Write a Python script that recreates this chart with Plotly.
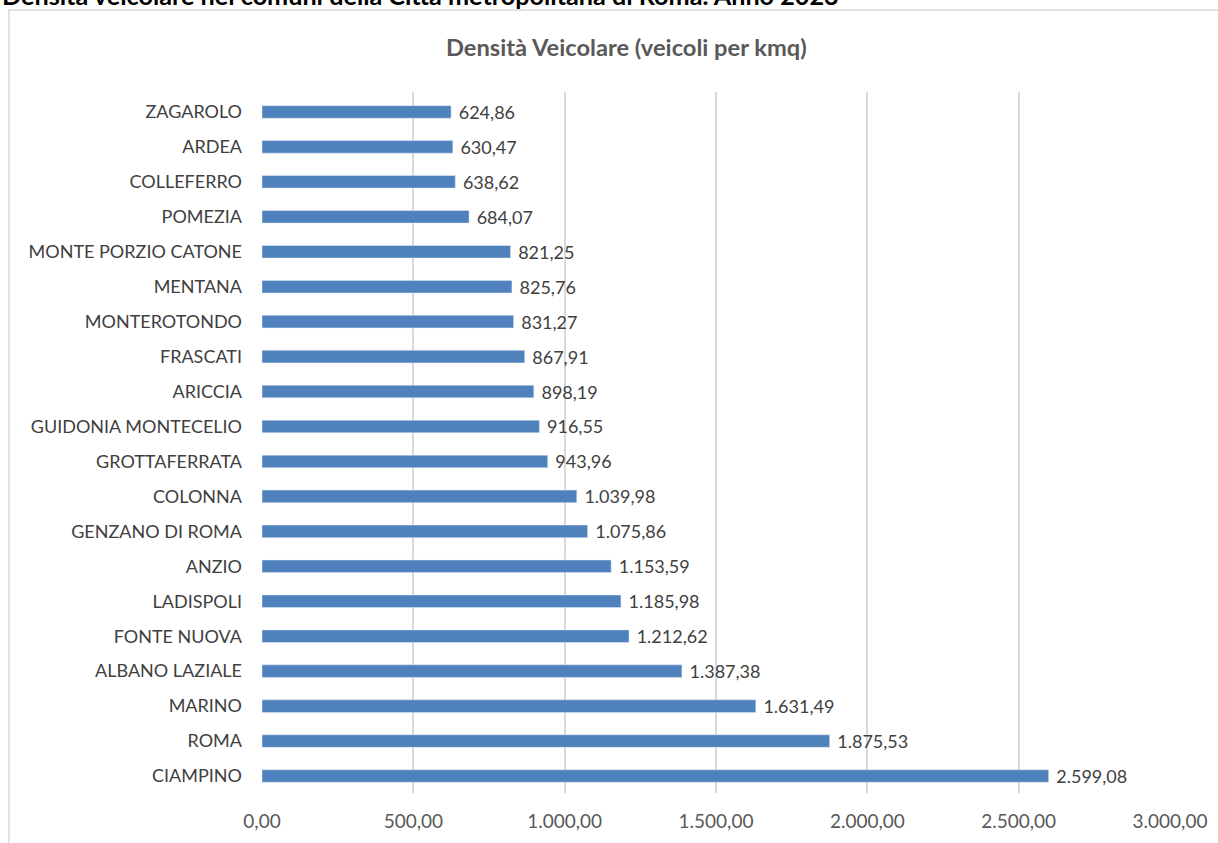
import plotly.graph_objects as go

comuni = ["CIAMPINO", "ROMA", "MARINO", "ALBANO LAZIALE", "FONTE NUOVA", "LADISPOLI", "ANZIO",
          "GENZANO DI ROMA", "COLONNA", "GROTTAFERRATA", "GUIDONIA MONTECELIO", "ARICCIA",
          "FRASCATI", "MONTEROTONDO", "MENTANA", "MONTE PORZIO CATONE", "POMEZIA",
          "COLLEFERRO", "ARDEA", "ZAGAROLO"]
densita = [2599.08, 1875.53, 1631.49, 1387.38, 1212.62, 1185.98, 1153.59,
           1075.86, 1039.98, 943.96, 916.55, 898.19,
           867.91, 831.27, 825.76, 821.25, 684.07,
           638.62, 630.47, 624.86]
x_ticks = [0, 500, 1000, 1500, 2000, 2500, 3000]

FONT = "Lato, 'Open Sans', sans-serif"

fig = go.Figure(go.Bar(
    x=densita, y=comuni, orientation="h",
    marker=dict(color="#4f81bd"),
    width=0.36,
    texttemplate="\u00a0%{x:,.2f}", textposition="outside",
    textfont=dict(family=FONT, size=18, color="#404040"),
    constraintext="none",
    cliponaxis=False,
))

L, R, T, B = 262, 1170, 92, 793
W, H = 1218, 843
pw, ph = R - L, B - T

def px(xp):
    return (xp - L) / pw

def py(yp):
    return (B - yp) / ph

fig.update_layout(
    width=W, height=H,
    margin=dict(l=L, r=W - R, t=T, b=H - B, pad=0, autoexpand=False),
    paper_bgcolor="white", plot_bgcolor="white",
    separators=",.",
    showlegend=False,
    font=dict(family=FONT, size=18, color="#404040"),
    xaxis=dict(range=[0, 3000], tickvals=x_ticks, tickformat=",.2f",
               showgrid=True, gridcolor="#d9d9d9", gridwidth=1.5,
               zeroline=False, showline=False, ticks="",
               tickfont=dict(family=FONT, size=19, color="#595959"),
               ticklabelstandoff=15),
    yaxis=dict(range=[-0.486, 19.57], showgrid=False, zeroline=False, showline=False,
               ticks="", tickfont=dict(family=FONT, size=18, color="#404040"),
               ticklabelstandoff=19),
    shapes=[dict(type="rect", xref="paper", yref="paper",
                 x0=px(9), x1=px(1230), y0=py(860), y1=py(10),
                 line=dict(color="#d9d9d9", width=1.5), fillcolor="rgba(0,0,0,0)",
                 layer="below")],
    annotations=[
        dict(text="<b>Densità Veicolare (veicoli per kmq)</b>", xref="paper", yref="paper",
             x=px(626), y=py(47), xanchor="center", yanchor="middle", showarrow=False,
             font=dict(family=FONT, size=23.7, color="#595959")),
        dict(text="<b>Densità veicolare nei comuni della Città metropolitana di Roma. Anno 2023</b>",
             xref="paper", yref="paper", x=px(0), y=py(12), xanchor="left", yanchor="bottom",
             showarrow=False, font=dict(family=FONT, size=25.2, color="#000000")),
    ],
)

fig.write_html("out.html", config={"displayModeBar": False},
               post_script="document.body.style.margin='0';document.body.style.overflow='hidden';")
